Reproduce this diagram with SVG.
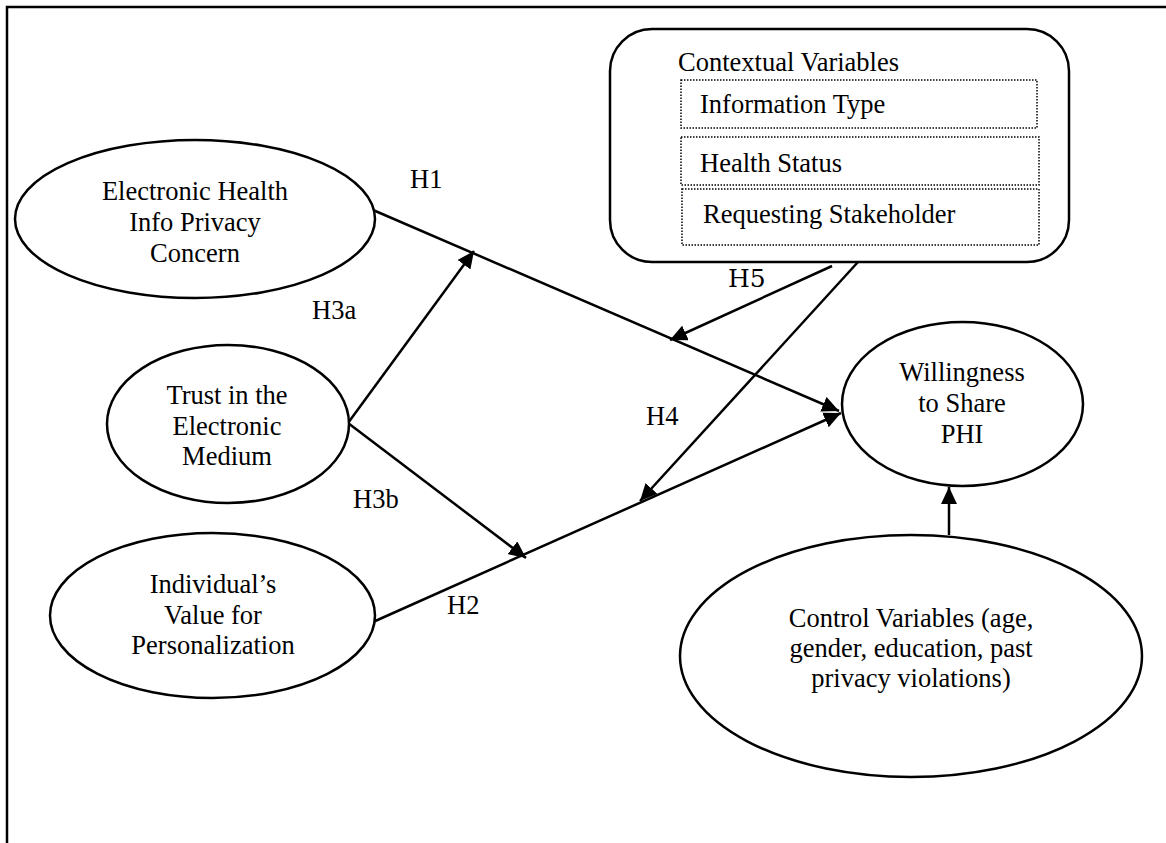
<svg xmlns="http://www.w3.org/2000/svg" width="1166" height="843" viewBox="0 0 1166 843">
<style>
text{font-family:"Liberation Serif","Times New Roman",serif;font-size:26.5px;fill:#000}
.c{text-anchor:middle}
.node{fill:#fff;stroke:#000;stroke-width:2.5}
.dot{fill:none;stroke:#000;stroke-width:1.5;stroke-dasharray:1.5 1.5}
.edge{fill:none;stroke:#000;stroke-width:2.5}
.h5{font-family:"DejaVu Serif","Liberation Serif",serif;font-size:25px}
</style>
<defs>
<marker id="ah" markerUnits="userSpaceOnUse" markerWidth="19" markerHeight="16" refX="17" refY="8" orient="auto">
<path d="M0,0 L17,8 L0,16 Z" fill="#000"/>
</marker>
</defs>
<rect width="1166" height="843" fill="#fff"/>
<g id="frame"><path d="M7,843 V7 H1166" fill="none" stroke="#000" stroke-width="2.5"/></g>

<g id="connectors">
<line class="edge" x1="373" y1="210" x2="839" y2="411" marker-end="url(#ah)"/>
<line class="edge" x1="373" y1="622" x2="841" y2="413" marker-end="url(#ah)"/>
<line class="edge" x1="348" y1="423" x2="474" y2="251" marker-end="url(#ah)"/>
<line class="edge" x1="348" y1="423" x2="526" y2="558" marker-end="url(#ah)"/>
<line class="edge" x1="832" y1="266" x2="670" y2="340" marker-end="url(#ah)"/>
<line class="edge" x1="858" y1="262" x2="640" y2="501" marker-end="url(#ah)"/>
<line class="edge" x1="949" y1="535" x2="949" y2="487" marker-end="url(#ah)"/>
</g>

<g id="ehipc">
<ellipse class="node" cx="195" cy="219" rx="180" ry="79"/>
<text class="c" x="195" y="200">Electronic Health</text>
<text class="c" x="195" y="231">Info Privacy</text>
<text class="c" x="195" y="262">Concern</text>
</g>

<g id="trust">
<ellipse class="node" cx="228" cy="424" rx="121" ry="79"/>
<text class="c" x="227" y="404">Trust in the</text>
<text class="c" x="227" y="435">Electronic</text>
<text class="c" x="227" y="465">Medium</text>
</g>

<g id="personalization">
<ellipse class="node" cx="212.5" cy="615.5" rx="162.5" ry="82.5"/>
<text class="c" x="213" y="593">Individual’s</text>
<text class="c" x="213" y="624">Value for</text>
<text class="c" x="213" y="654">Personalization</text>
</g>

<g id="contextual">
<rect class="node" x="610" y="29" width="459" height="233" rx="42" ry="42"/>
<text x="678" y="71">Contextual Variables</text>
<rect class="dot" x="681" y="80" width="356" height="48"/>
<text x="700" y="113">Information Type</text>
<rect class="dot" x="681" y="137" width="358" height="48"/>
<text x="700" y="172">Health Status</text>
<rect class="dot" x="682" y="189" width="357" height="56"/>
<text x="703" y="223">Requesting Stakeholder</text>
</g>

<g id="willingness">
<ellipse class="node" cx="962.5" cy="404" rx="120.5" ry="82"/>
<text class="c" x="962" y="381">Willingness</text>
<text class="c" x="962" y="412">to Share</text>
<text class="c" x="962" y="443">PHI</text>
</g>

<g id="control">
<ellipse class="node" cx="911" cy="656" rx="231" ry="121"/>
<text class="c" x="911" y="627">Control Variables (age,</text>
<text class="c" x="911" y="657">gender, education, past</text>
<text class="c" x="911" y="687">privacy violations)</text>
</g>

<g id="labels">
<text x="410" y="188">H1</text>
<text x="312" y="319">H3a</text>
<text x="353" y="508">H3b</text>
<text x="646" y="425">H4</text>
<text x="447" y="614">H2</text>
<text class="h5" x="728" y="287">H5</text>
</g>
</svg>
